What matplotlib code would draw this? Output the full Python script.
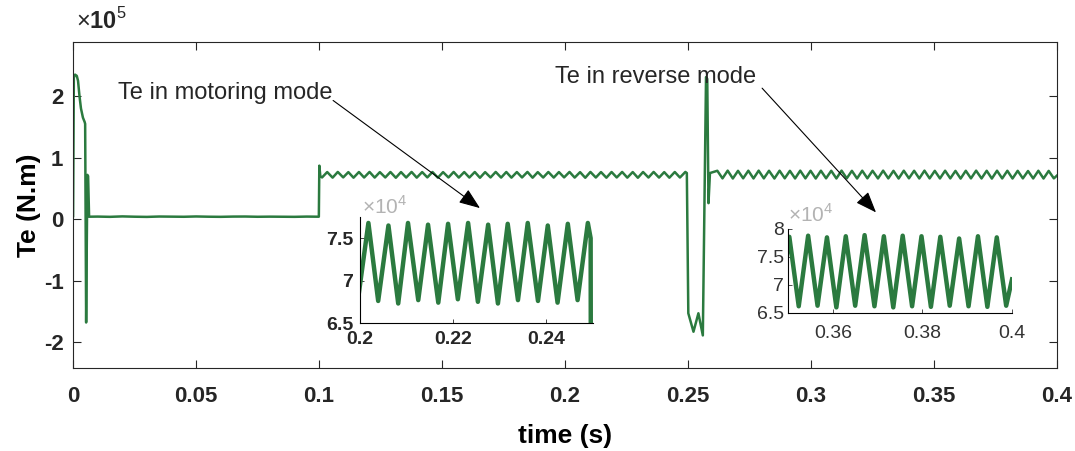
import matplotlib.pyplot as plt
import numpy as np

plt.rcParams['font.family'] = ['Liberation Sans', 'DejaVu Sans']
plt.rcParams['mathtext.fontset'] = 'custom'
plt.rcParams['mathtext.rm'] = 'Liberation Sans'
plt.rcParams['mathtext.bf'] = 'Liberation Sans:bold'

GREEN = '#2b7a3f'

# start-up transient and no-load (time in ms, Te in N.m)
t_start = [0.0, 0.3, 0.8, 1.5, 2.0, 2.6, 3.2, 4.0, 4.7, 4.9, 5.3, 5.8, 6.1, 6.5,
           10, 15, 20, 25, 30, 35, 40, 45, 50, 55, 60, 65, 70, 75, 80, 85, 90, 95, 99.9]
te_start = [5000, 230000, 235000, 233000, 225000, 200000, 180000, 165000, 158000, 155000,
            -168000, 72000, 70000, 4000,
            4200, 3800, 4500, 4000, 3700, 4300, 4100, 3900, 4400, 4000, 3800,
            4200, 4300, 3900, 4100, 4000, 3800, 4200, 4000]

# load step at 0.1 s
t_step = [100.1, 100.5]
te_step = [87000, 70000]

# motoring mode ripple, troughs and peaks
t_motor = [101.2, 103.3, 105.5, 107.6, 109.8, 111.9, 114.0, 116.2, 118.3, 120.5,
           122.6, 124.7, 126.9, 129.0, 131.2, 133.3, 135.4, 137.6, 139.7, 141.9,
           144.0, 146.1, 148.3, 150.4, 152.6, 154.7, 156.8, 159.0, 161.1, 163.3,
           165.4, 167.5, 169.7, 171.8, 174.0, 176.1, 178.2, 180.4, 182.5, 184.7,
           186.8, 188.9, 191.1, 193.2, 195.4, 197.5, 199.6, 201.8, 203.9, 206.1,
           208.2, 210.3, 212.5, 214.6, 216.8, 218.9, 221.0, 223.2, 225.3, 227.5,
           229.6, 231.7, 233.9, 236.0, 238.2, 240.3, 242.4, 244.6, 246.7, 248.9]
te_motor = [67800, 76600, 67500, 76800, 67900, 76500, 67400, 76700, 67700, 76800,
            67600, 76500, 67800, 76700, 67300, 76600, 67700, 76800, 67500, 76600,
            67900, 76700, 67400, 76500, 67800, 76800, 67600, 76600, 67700, 76700,
            67300, 76500, 67800, 76800, 67600, 76700, 67500, 76600, 67800, 76800,
            67400, 76500, 67700, 76700, 67600, 76600, 67900, 76800, 67600, 76500,
            67300, 76800, 67700, 76600, 67400, 76700, 67800, 76800, 67500, 76600,
            67300, 76700, 67700, 76800, 67600, 76500, 67400, 76700, 67700, 76800]

# speed reversal transient
t_rev = [249.5, 250.1, 252.2, 254.2, 256.0, 257.3, 257.8, 258.3, 258.9]
te_rev = [75000, -153000, -183000, -153000, -189000, 231000, 228000, 26000, 75000]

# reverse mode ripple, peaks and troughs
t_reverse = [261.9, 264.0, 266.1, 268.2, 270.3, 272.4, 274.5, 276.6, 278.7, 280.8,
             282.9, 285.1, 287.2, 289.3, 291.4, 293.5, 295.6, 297.7, 299.8, 301.9,
             304.0, 306.1, 308.2, 310.3, 312.4, 314.5, 316.6, 318.7, 320.8, 322.9,
             325.0, 327.2, 329.3, 331.4, 333.5, 335.6, 337.7, 339.8, 341.9, 344.0,
             346.1, 348.2, 350.3, 352.4, 354.5, 356.6, 358.7, 360.8, 362.9, 365.0,
             367.1, 369.3, 371.4, 373.5, 375.6, 377.7, 379.8, 381.9, 384.0, 386.1,
             388.2, 390.3, 392.4, 394.5, 396.6, 398.7, 400.0]
te_reverse = [78700, 66300, 78900, 66100, 78600, 66400, 78800, 66200, 78900, 66300,
              78700, 66100, 78800, 66400, 78600, 66200, 78900, 66300, 78700, 66100,
              78800, 66400, 78700, 66200, 78900, 66300, 78600, 66100, 78800, 66400,
              78700, 66200, 78900, 66300, 78600, 66100, 78800, 66400, 78700, 66200,
              78900, 66300, 78600, 66200, 78800, 66300, 78500, 66000, 78700, 66300,
              78900, 66200, 78700, 66000, 78800, 66200, 78700, 66100, 78600, 66300,
              78300, 66200, 78700, 66100, 78500, 66300, 71000]

t = np.concatenate([t_start, t_step, t_motor, t_rev, t_reverse]) / 1000.0
te = np.concatenate([te_start, te_step, te_motor, te_rev, te_reverse])

x_ticks = [0, 0.05, 0.1, 0.15, 0.2, 0.25, 0.3, 0.35, 0.4]
x_labels = ['0', '0.05', '0.1', '0.15', '0.2', '0.25', '0.3', '0.35', '0.4']
y_ticks = [-2e5, -1e5, 0, 1e5, 2e5]
y_labels = ['-2', '-1', '0', '1', '2']

fig = plt.figure(figsize=(10.75, 4.51), dpi=100)
ax = fig.add_axes([0.068, 0.184, 0.9153, 0.7228])
ax.plot(t, te, color=GREEN, lw=1.8, solid_joinstyle='round')
ax.set_xlim(0, 0.4)
ax.set_ylim(-2.42e5, 2.88e5)
ax.set_xticks(x_ticks)
ax.set_xticklabels(x_labels, fontweight='bold')
ax.set_yticks(y_ticks)
ax.set_yticklabels(y_labels, fontweight='bold')
ax.tick_params(direction='in', length=6, width=0.8, top=True, right=True,
               labelsize=16, colors='#262626')
ax.tick_params(axis='x', pad=13)
ax.tick_params(axis='y', pad=7)
for s in ax.spines.values():
    s.set_color('#262626')
    s.set_linewidth(0.8)
ax.set_xlabel('time (s)', fontsize=19, fontweight='bold', labelpad=12)
ax.set_ylabel('Te (N.m)', fontsize=19, fontweight='bold', labelpad=2)
fig.text(0.071, 0.935, r'$\times\mathbf{10}^{5}$', fontsize=17, color='#262626')

# annotations
ax.text(0.0183, 2.05e5, 'Te in motoring mode', fontsize=17, va='center', color='#262626')
ax.text(0.1959, 2.31e5, 'Te in reverse mode', fontsize=17, va='center', color='#262626')
arrow = dict(arrowstyle='-|>,head_length=1.3,head_width=0.5', color='k', lw=0.8,
             shrinkA=0, shrinkB=0)
ax.annotate('', xy=(0.1654, 0.18e5), xytext=(0.1057, 1.93e5), arrowprops=arrow)
ax.annotate('', xy=(0.3264, 0.11e5), xytext=(0.2801, 2.13e5), arrowprops=arrow)

# inset 1: motoring mode
ax1 = fig.add_axes([0.3349, 0.2838, 0.2167, 0.235])
m1 = (t >= 0.199) & (t <= 0.2505)
ax1.plot(np.append(t[m1], 0.2499), np.append(te[m1], 60000), color=GREEN, lw=3.2,
         solid_joinstyle='round')
ax1.set_xlim(0.2, 0.25)
ax1.set_ylim(6.5e4, 7.75e4)
ax1.set_xticks([0.2, 0.22, 0.24])
ax1.set_xticklabels(['0.2', '0.22', '0.24'], fontweight='bold')
ax1.set_yticks([6.5e4, 7e4, 7.5e4])
ax1.set_yticklabels(['6.5', '7', '7.5'], fontweight='bold')
ax1.tick_params(direction='in', length=3, width=0.6, labelsize=14, colors='#262626')
ax1.tick_params(axis='x', pad=6)
ax1.tick_params(axis='y', pad=5)
ax1.spines['top'].set_visible(False)
ax1.spines['right'].set_visible(False)
ax1.text(0.01, 1.03, r'$\times10^{4}$', transform=ax1.transAxes, fontsize=15, color='#b3b3b3')

# inset 2: reverse mode
ax2 = fig.add_axes([0.733, 0.306, 0.2084, 0.1863])
m2 = (t >= 0.348) & (t <= 0.4)
ax2.plot(t[m2], te[m2], color=GREEN, lw=3.2, solid_joinstyle='round')
ax2.set_xlim(0.35, 0.4)
ax2.set_ylim(6.5e4, 8e4)
ax2.set_xticks([0.36, 0.38, 0.4])
ax2.set_xticklabels(['0.36', '0.38', '0.4'])
ax2.set_yticks([6.5e4, 7e4, 7.5e4, 8e4])
ax2.set_yticklabels(['6.5', '7', '7.5', '8'])
ax2.tick_params(direction='in', length=3, width=0.6, labelsize=14, colors='#333333')
ax2.tick_params(axis='x', pad=9)
ax2.tick_params(axis='y', pad=3)
ax2.spines['top'].set_visible(False)
ax2.spines['right'].set_visible(False)
ax2.text(0.0, 1.08, r'$\times10^{4}$', transform=ax2.transAxes, fontsize=15, color='#b3b3b3')

fig.savefig('out.png', dpi=100)
